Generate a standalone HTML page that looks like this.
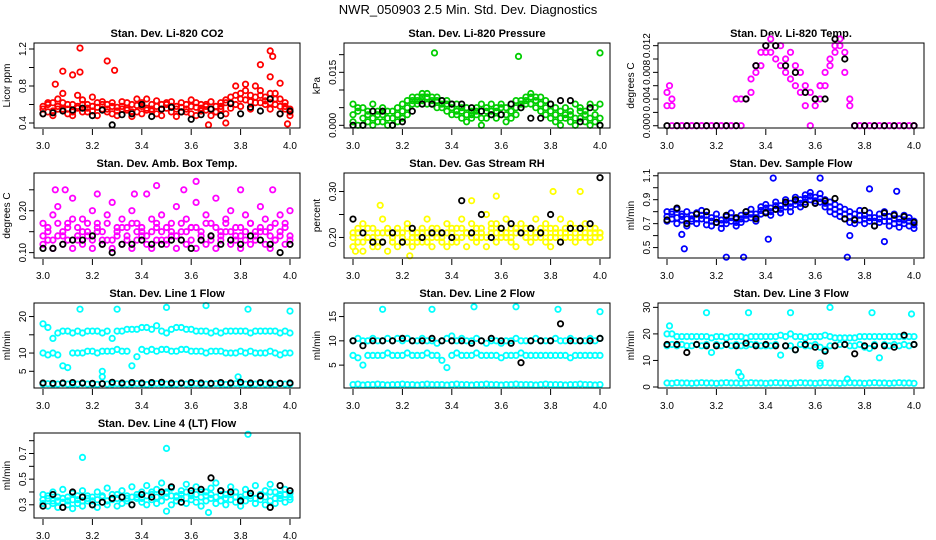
<!DOCTYPE html>
<html><head><meta charset="utf-8"><style>
html,body{margin:0;padding:0;background:#fff;}
svg{display:block;font-family:"Liberation Sans",Arial,sans-serif;}
</style></head><body>
<svg id="chart" width="936" height="540" viewBox="0 0 936 540" xmlns="http://www.w3.org/2000/svg">
<rect width="936" height="540" fill="#fff"/>
<text x="468" y="14" text-anchor="middle" font-size="13">NWR_050903  2.5 Min. Std. Dev. Diagnostics</text>
</svg>
<script>
const X = [3.00,3.02,3.04,3.06,3.08,3.10,3.12,3.14,3.16,3.18,3.20,3.22,3.24,3.26,3.28,3.30,3.32,3.34,3.36,3.38,3.40,3.42,3.44,3.46,3.48,3.50,3.52,3.54,3.56,3.58,3.60,3.62,3.64,3.66,3.68,3.70,3.72,3.74,3.76,3.78,3.80,3.82,3.84,3.86,3.88,3.90,3.92,3.94,3.96,3.98,4.00];
const XB = [3.00,3.04,3.08,3.12,3.16,3.20,3.24,3.28,3.32,3.36,3.40,3.44,3.48,3.52,3.56,3.60,3.64,3.68,3.72,3.76,3.80,3.84,3.88,3.92,3.96,4.00];

const co2A = [0.58,0.52,0.62,0.55,0.72,0.50,0.60,0.56,0.65,0.52,0.58,0.62,0.55,0.60,0.50,0.57,0.63,0.54,0.60,0.52,0.58,0.66,0.55,0.50,0.60,0.56,0.52,0.58,0.62,0.55,0.50,0.57,0.60,0.54,0.63,0.58,0.55,0.62,0.68,0.60,0.72,0.65,0.70,0.62,0.75,0.68,0.72,0.60,0.66,0.58,0.55];
const co2B = [0.50,0.62,0.48,0.66,0.55,0.60,0.48,0.70,0.52,0.60,0.68,0.48,0.63,0.52,0.58,0.48,0.55,0.62,0.47,0.66,0.50,0.54,0.60,0.64,0.48,0.62,0.58,0.47,0.52,0.60,0.65,0.48,0.53,0.58,0.48,0.52,0.62,0.50,0.56,0.80,0.58,0.82,0.55,0.80,0.62,0.60,0.55,0.72,0.50,0.62,0.48];
const co2C = [0.55,0.60,0.53,0.58,0.62,0.55,0.52,0.58,0.60,0.56,0.53,0.57,0.60,0.55,0.62,0.53,0.58,0.56,0.52,0.59,0.62,0.56,0.53,0.58,0.55,0.60,0.63,0.55,0.57,0.52,0.58,0.62,0.56,0.60,0.55,0.52,0.58,0.65,0.62,0.70,0.66,0.75,0.63,0.68,0.70,0.64,0.62,0.66,0.58,0.55,0.52];
const co2OutX = [3.15,3.26,3.29,3.08,3.12,3.15,3.92,3.93,3.88,3.05,3.92,3.96,3.67,3.99,3.74];
const co2OutY = [1.21,1.07,0.97,0.96,0.92,0.95,1.18,1.12,1.03,0.82,0.90,0.83,0.38,0.39,0.40];
const co2K = [0.50,0.51,0.53,0.54,0.56,0.48,0.54,0.38,0.49,0.50,0.60,0.47,0.55,0.57,0.52,0.44,0.49,0.55,0.48,0.61,0.50,0.57,0.53,0.66,0.50,0.53];

const prsA = [0.006,0.004,0.005,0.003,0.006,0.004,0.005,0.002,0.004,0.005,0.006,0.007,0.008,0.008,0.009,0.009,0.008,0.008,0.007,0.007,0.006,0.006,0.005,0.005,0.004,0.005,0.006,0.005,0.006,0.005,0.006,0.005,0.006,0.007,0.007,0.008,0.009,0.008,0.008,0.007,0.006,0.005,0.004,0.005,0.004,0.006,0.005,0.004,0.006,0.005,0.006];
const prsB = [0.001,0.000,0.002,0.001,0.000,0.003,0.001,0.000,0.002,0.003,0.004,0.005,0.006,0.007,0.007,0.006,0.006,0.005,0.005,0.004,0.003,0.003,0.002,0.001,0.002,0.003,0.000,0.002,0.003,0.002,0.003,0.001,0.002,0.003,0.005,0.006,0.006,0.005,0.004,0.003,0.002,0.001,0.000,0.002,0.001,0.000,0.002,0.001,0.000,0.001,0.000];
const prsC = [0.003,0.005,0.000,0.004,0.002,0.001,0.003,0.004,0.000,0.001,0.002,0.003,0.007,0.006,0.008,0.008,0.007,0.007,0.006,0.006,0.005,0.004,0.004,0.003,0.003,0.004,0.002,0.004,0.004,0.004,0.005,0.003,0.004,0.005,0.006,0.007,0.008,0.007,0.006,0.005,0.004,0.003,0.002,0.003,0.003,0.002,0.004,0.003,0.002,0.003,0.002];
const prsOutX = [3.33,3.67,4.00];
const prsOutY = [0.0205,0.0195,0.0205];
const prsK = [0.000,0.000,0.004,0.004,0.000,0.001,0.004,0.006,0.006,0.007,0.006,0.006,0.005,0.004,0.003,0.003,0.006,0.005,0.002,0.002,0.006,0.007,0.007,0.001,0.005,0.000];

const tmpA = [0.003,0.003,0,0,0,0,0,0,0,0,0,0,0,0,0.004,0.004,0.004,0.005,0.009,0.011,0.012,0.013,0.012,0.012,0.010,0.011,0.009,0.008,0.006,0.005,0.004,0.004,0.006,0.010,0.012,0.013,0.011,0.004,0,0,0,0,0,0,0,0,0,0,0,0,0];
const tmpB = [0.005,0.000,0,0,0,0,0,0,0,0,0,0,0,0,0.000,0.000,0.004,0.007,0.008,0.009,0.011,0.011,0.010,0.009,0.008,0.007,0.006,0.005,0.003,0.000,0.003,0.006,0.008,0.009,0.011,0.012,0.008,0.003,0,0,0,0,0,0,0,0,0,0,0,0,0];
const tmpOutX = [3.01,3.02,3.62];
const tmpOutY = [0.006,0.004,0.006];
const tmpK = [0,0,0,0,0,0,0,0,0.004,0.009,0.012,0.012,0.009,0.008,0.005,0.004,0.004,0.013,0.010,0,0,0,0,0,0,0];

const ambA = [0.17,0.15,0.19,0.21,0.14,0.17,0.23,0.16,0.18,0.15,0.20,0.17,0.13,0.19,0.22,0.16,0.18,0.14,0.20,0.17,0.15,0.24,0.18,0.16,0.19,0.13,0.17,0.21,0.15,0.18,0.16,0.22,0.14,0.19,0.17,0.23,0.15,0.18,0.20,0.16,0.14,0.19,0.17,0.15,0.21,0.18,0.16,0.13,0.19,0.17,0.20];
const ambB = [0.12,0.13,0.11,0.14,0.12,0.16,0.11,0.13,0.12,0.14,0.11,0.15,0.12,0.13,0.11,0.14,0.12,0.16,0.11,0.13,0.14,0.12,0.11,0.13,0.15,0.12,0.14,0.11,0.13,0.12,0.16,0.11,0.13,0.12,0.14,0.11,0.13,0.15,0.12,0.14,0.11,0.13,0.12,0.14,0.15,0.12,0.11,0.13,0.14,0.12,0.13];
const ambC = [0.14,0.16,0.13,0.17,0.15,0.13,0.18,0.14,0.15,0.17,0.13,0.16,0.15,0.17,0.13,0.15,0.16,0.13,0.17,0.15,0.16,0.14,0.15,0.17,0.13,0.16,0.15,0.14,0.17,0.15,0.13,0.16,0.15,0.17,0.13,0.16,0.14,0.17,0.15,0.13,0.16,0.15,0.17,0.13,0.16,0.15,0.14,0.17,0.15,0.16,0.14];
const ambOutX = [3.05,3.09,3.22,3.46,3.62,3.80,3.57,3.93,3.37];
const ambOutY = [0.25,0.25,0.24,0.26,0.27,0.25,0.25,0.25,0.24];
const ambK = [0.11,0.11,0.12,0.13,0.13,0.14,0.12,0.10,0.12,0.12,0.13,0.12,0.12,0.13,0.13,0.11,0.13,0.14,0.12,0.13,0.12,0.14,0.13,0.12,0.10,0.12];

const rhA = [0.21,0.19,0.23,0.20,0.22,0.18,0.24,0.21,0.19,0.22,0.20,0.23,0.21,0.19,0.22,0.24,0.20,0.22,0.21,0.23,0.19,0.22,0.24,0.21,0.23,0.20,0.22,0.25,0.21,0.23,0.20,0.24,0.22,0.21,0.23,0.20,0.22,0.24,0.21,0.23,0.22,0.20,0.24,0.21,0.23,0.22,0.20,0.23,0.21,0.22,0.21];
const rhB = [0.18,0.22,0.17,0.20,0.18,0.21,0.19,0.17,0.20,0.18,0.21,0.19,0.18,0.20,0.19,0.21,0.18,0.20,0.19,0.18,0.21,0.19,0.20,0.18,0.21,0.19,0.20,0.18,0.22,0.19,0.21,0.20,0.19,0.18,0.21,0.20,0.19,0.21,0.20,0.19,0.18,0.21,0.19,0.20,0.22,0.19,0.20,0.21,0.19,0.20,0.21];
const rhC = [0.20,0.21,0.19,0.22,0.20,0.19,0.21,0.22,0.20,0.21,0.19,0.22,0.20,0.21,0.21,0.19,0.22,0.21,0.20,0.21,0.22,0.20,0.22,0.21,0.20,0.22,0.21,0.20,0.23,0.21,0.22,0.21,0.20,0.22,0.21,0.22,0.21,0.20,0.22,0.21,0.20,0.22,0.21,0.22,0.20,0.21,0.22,0.20,0.22,0.21,0.20];
const rhOutX = [3.01,3.23,3.58,3.81,3.92,3.48,3.11];
const rhOutY = [0.17,0.16,0.29,0.30,0.30,0.28,0.27];
const rhK = [0.24,0.21,0.19,0.19,0.21,0.19,0.22,0.20,0.21,0.21,0.20,0.28,0.21,0.25,0.20,0.22,0.23,0.21,0.22,0.21,0.25,0.19,0.22,0.22,0.23,0.33];

const sfA = [0.80,0.78,0.82,0.76,0.80,0.74,0.79,0.81,0.77,0.75,0.78,0.73,0.76,0.79,0.74,0.77,0.80,0.82,0.78,0.84,0.86,0.83,0.88,0.85,0.90,0.87,0.92,0.90,0.94,0.96,0.92,0.95,0.90,0.88,0.86,0.84,0.82,0.80,0.78,0.81,0.77,0.79,0.75,0.78,0.80,0.76,0.78,0.74,0.77,0.75,0.72];
const sfB = [0.72,0.74,0.70,0.73,0.68,0.72,0.70,0.74,0.69,0.68,0.71,0.66,0.70,0.72,0.68,0.71,0.74,0.75,0.72,0.78,0.80,0.77,0.82,0.79,0.84,0.80,0.86,0.84,0.88,0.90,0.87,0.88,0.84,0.80,0.78,0.76,0.74,0.71,0.70,0.73,0.70,0.72,0.68,0.71,0.72,0.68,0.70,0.67,0.70,0.68,0.66];
const sfC = [0.76,0.80,0.75,0.78,0.74,0.77,0.74,0.77,0.73,0.72,0.74,0.70,0.73,0.75,0.71,0.74,0.77,0.78,0.75,0.81,0.83,0.80,0.85,0.82,0.87,0.84,0.89,0.87,0.91,0.93,0.89,0.91,0.87,0.84,0.82,0.80,0.78,0.76,0.74,0.77,0.74,0.75,0.72,0.74,0.76,0.72,0.74,0.71,0.73,0.72,0.69];
const sfOutX = [3.07,3.24,3.31,3.43,3.62,3.73,3.41,3.88,3.82,3.93,3.06,3.74];
const sfOutY = [0.49,0.42,0.42,1.08,1.08,0.42,0.57,0.55,0.99,0.97,0.61,0.60];
const sfK = [0.73,0.83,0.70,0.78,0.80,0.71,0.77,0.75,0.80,0.74,0.79,0.82,0.88,0.90,0.86,0.87,0.89,0.91,0.74,0.73,0.81,0.68,0.79,0.77,0.76,0.71];

const l1A = [18,17,14,15.5,16,16,15.5,16,15.5,16,16,16,15.5,16,14,16,16,16.5,16.5,16.5,17,17,16.5,17.5,16,15.5,16.5,17,17,16.5,16.5,16,16,16,15.5,16,15.5,16,16,16,16,16,15.5,16,16,16,16,16,15.5,16,15.5];
const l1B = [10,9.5,10,9.5,6.5,6,10,10,10,10.5,10.5,10,10.5,10.5,10.5,11,10.5,10.5,6.5,9,11,10.5,11,10.5,11,11,10.5,10.5,11,11,10.5,10.5,10.5,10,10.5,10.5,10.5,10,10,10,10.5,10,10.5,10,10,10,10.5,10,9.5,10,10];
const l1C = [1.5,1.6,1.4,1.5,1.6,1.5,1.4,1.5,1.6,1.5,1.5,1.4,1.6,1.5,1.5,1.6,1.4,1.5,1.5,1.6,1.5,1.4,1.5,1.6,1.5,1.5,1.4,1.5,1.6,1.5,1.5,1.6,1.4,1.5,1.5,1.6,1.5,1.4,1.5,1.6,1.5,1.5,1.4,1.5,1.6,1.5,1.5,1.4,1.6,1.5,1.5];
const l1OutX = [3.15,3.30,3.50,3.66,3.83,4.00,3.24,3.24,3.79];
const l1OutY = [22,22,22.5,23,22,21.5,3.5,5,3.5];
const l1K = [1.8,1.7,1.8,1.9,1.8,1.7,1.6,2.0,1.8,1.9,1.8,1.9,2.0,1.8,1.8,1.9,1.8,1.7,1.9,1.8,2.0,1.8,1.9,1.8,1.7,1.8];

const l2A = [10,10.5,10,10,10.5,10,10,10.5,10,10.5,10,10.5,10,10,10.5,10,10,9.5,10,10.5,11,10,10.5,10,10,10.5,10,9.5,10,10,9.5,10,10,10.5,10,10,10,10.5,10,10,10,10.5,10,10,10.5,10,10,10,10.5,10,10.5];
const l2B = [7,6.5,5,7,7,7,7,7.5,7,7,7,7.5,7,7,7,7.5,7,7,6,4.5,7,7.5,7,7,7,7.5,7,7,7,7,6.5,7,7,7,7.5,7,7,7,7,7,7,7,7,7,6.5,7,7,7,7,7,7];
const l2C = [1,1.1,0.9,1,1,1.1,1,0.9,1,1,1.1,1,1,0.9,1,1.1,1,1,1,0.9,1,1.1,1,1,0.9,1,1,1.1,1,1,0.9,1,1,1.1,1,1,1,0.9,1,1.1,1,1,1,0.9,1,1,1.1,1,1,0.9,1];
const l2OutX = [3.12,3.32,3.49,3.66,3.83,4.00];
const l2OutY = [16.5,16.5,17,17,16.5,16];
const l2K = [10,9,10,10,10,10.5,10,10,10.5,10,10,10,9.5,10,10.5,10,9.5,5.5,10,10,10,13.5,10,10,10,10.5];

const l3A = [20,20,19,19,19,19,19,19,19,18.5,19,19,18.5,19,19,19,18.5,19,19,19,19,19,19,19.5,19,20,19,19,18.5,19,19,19,19.5,19,18.5,18.5,18.5,18.5,18.5,19,19,19,19,19,19,19,19,19,19,19,19];
const l3B = [15.5,16,15.5,16,15.5,15.5,16,15.5,16,13,16,15.5,16,15.5,16,15.5,15.5,16,16,15.5,15.5,15.5,16,12,15.5,15.5,14,16,15.5,15.5,16,15,14,15.5,15.5,16,16,15.5,15.5,16,15,14.5,16,11,16,15.5,16,15.5,16,15.5,16];
const l3C = [1.5,1.4,1.6,1.5,1.5,1.4,1.5,1.6,1.5,1.5,1.4,1.5,1.6,1.5,1.5,1.4,1.5,1.6,1.5,1.5,1.4,1.5,1.6,1.5,1.5,1.4,1.5,1.6,1.5,1.5,1.4,1.5,1.6,1.5,1.5,1.4,1.5,1.6,1.5,1.5,1.4,1.5,1.6,1.5,1.5,1.4,1.5,1.6,1.5,1.5,1.4];
const l3OutX = [3.01,3.16,3.33,3.50,3.66,3.83,3.99,3.29,3.30,3.73,3.62,3.62];
const l3OutY = [23,28,28,28,30,28,27.5,5.5,4,3,9,8];
const l3K = [16,16,13,16,15.5,15.5,16,15.5,16.5,15.5,16,15.5,15.5,14,16,15,13.5,15.5,16,12.5,15.5,15.5,15.5,15,19.5,16];

const l4A = [0.38,0.35,0.40,0.33,0.42,0.36,0.39,0.34,0.41,0.37,0.33,0.40,0.36,0.43,0.35,0.38,0.41,0.37,0.44,0.36,0.40,0.45,0.38,0.42,0.47,0.39,0.43,0.37,0.41,0.46,0.39,0.44,0.40,0.37,0.43,0.47,0.41,0.38,0.44,0.40,0.36,0.42,0.39,0.45,0.37,0.41,0.46,0.40,0.38,0.42,0.39];
const l4B = [0.31,0.29,0.33,0.28,0.32,0.30,0.27,0.31,0.29,0.33,0.30,0.28,0.32,0.30,0.34,0.29,0.31,0.33,0.30,0.35,0.32,0.30,0.34,0.31,0.33,0.36,0.30,0.33,0.35,0.31,0.34,0.32,0.29,0.33,0.35,0.31,0.33,0.30,0.34,0.32,0.29,0.33,0.35,0.31,0.34,0.30,0.33,0.31,0.35,0.32,0.34];
const l4C = [0.34,0.37,0.31,0.36,0.35,0.33,0.34,0.37,0.33,0.35,0.36,0.34,0.37,0.33,0.38,0.35,0.36,0.35,0.36,0.38,0.35,0.37,0.40,0.36,0.38,0.40,0.37,0.36,0.38,0.40,0.37,0.38,0.36,0.40,0.38,0.36,0.38,0.35,0.38,0.36,0.34,0.38,0.37,0.35,0.38,0.36,0.40,0.35,0.37,0.38,0.36];
const l4OutX = [3.16,3.50,3.83,3.67,3.50];
const l4OutY = [0.67,0.74,0.85,0.24,0.25];
const l4K = [0.29,0.38,0.28,0.40,0.36,0.30,0.32,0.35,0.36,0.30,0.38,0.36,0.40,0.44,0.32,0.41,0.42,0.51,0.41,0.40,0.33,0.39,0.37,0.28,0.45,0.41];

const xTicks = [3.0,3.2,3.4,3.6,3.8,4.0];
const xTickLabels = ["3.0","3.2","3.4","3.6","3.8","4.0"];

const panels = [
 {name:"co2",title:"Stan. Dev. Li-820 CO2",ylab:"Licor ppm",col:0,row:0,color:"#ff0000",ymin:0.346,ymax:1.265,ticks:[0.4,0.6,0.8,1.0,1.2],labels:["0.4","","0.8","","1.2"],series:[co2A,co2B,co2C],ox:co2OutX,oy:co2OutY,k:co2K},
 {name:"pressure",title:"Stan. Dev. Li-820 Pressure",ylab:"kPa",col:1,row:0,color:"#00cd00",ymin:-0.00076,ymax:0.0233,ticks:[0,0.005,0.010,0.015,0.020],labels:["0.000","","","0.015",""],series:[prsA,prsB,prsC],ox:prsOutX,oy:prsOutY,k:prsK},
 {name:"temp",title:"Stan. Dev. Li-820 Temp.",ylab:"degrees C",col:2,row:0,color:"#ff00ff",ymin:-0.00034,ymax:0.0124,ticks:[0,0.002,0.004,0.006,0.008,0.010,0.012],labels:["0.000","","0.004","","0.008","","0.012"],series:[tmpA,tmpB],ox:tmpOutX,oy:tmpOutY,k:tmpK},
 {name:"amb-box-temp",title:"Stan. Dev. Amb. Box Temp.",ylab:"degrees C",col:0,row:1,color:"#ff00ff",ymin:0.0872,ymax:0.2901,ticks:[0.10,0.15,0.20,0.25],labels:["0.10","","0.20",""],series:[ambA,ambB,ambC],ox:ambOutX,oy:ambOutY,k:ambK},
 {name:"gas-stream-rh",title:"Stan. Dev. Gas Stream RH",ylab:"percent",col:1,row:1,color:"#ffff00",ymin:0.1553,ymax:0.3403,ticks:[0.20,0.25,0.30],labels:["0.20","","0.30"],series:[rhA,rhB,rhC],ox:rhOutX,oy:rhOutY,k:rhK},
 {name:"sample-flow",title:"Stan. Dev. Sample Flow",ylab:"ml/min",col:2,row:1,color:"#0000ff",ymin:0.413,ymax:1.123,ticks:[0.5,0.6,0.7,0.8,0.9,1.0,1.1],labels:["0.5","","0.7","","0.9","","1.1"],series:[sfA,sfB,sfC],ox:sfOutX,oy:sfOutY,k:sfK},
 {name:"line1-flow",title:"Stan. Dev. Line 1 Flow",ylab:"ml/min",col:0,row:2,color:"#00ffff",ymin:0.425,ymax:23.71,ticks:[5,10,15,20],labels:["5","10","","20"],series:[l1A,l1B,l1C],ox:l1OutX,oy:l1OutY,k:l1K},
 {name:"line2-flow",title:"Stan. Dev. Line 2 Flow",ylab:"ml/min",col:1,row:2,color:"#00ffff",ymin:0.29,ymax:17.79,ticks:[5,10,15],labels:["5","10","15"],series:[l2A,l2B,l2C],ox:l2OutX,oy:l2OutY,k:l2K},
 {name:"line3-flow",title:"Stan. Dev. Line 3 Flow",ylab:"ml/min",col:2,row:2,color:"#00ffff",ymin:-0.38,ymax:31.64,ticks:[0,10,20,30],labels:["0","10","20","30"],series:[l3A,l3B,l3C],ox:l3OutX,oy:l3OutY,k:l3K},
 {name:"line4-flow",title:"Stan. Dev. Line 4 (LT) Flow",ylab:"ml/min",col:0,row:3,color:"#00ffff",ymin:0.197,ymax:0.860,ticks:[0.3,0.4,0.5,0.6,0.7,0.8],labels:["0.3","","0.5","","0.7",""],series:[l4A,l4B,l4C],ox:l4OutX,oy:l4OutY,k:l4K}
];

const svg = document.getElementById('chart');
const NS = 'http://www.w3.org/2000/svg';
const colX = [43,353,667];
const rowTop = [43,173,303,433];
const SPAN = 247, BH = 85;

function mk(tag, attrs, parent){
  const e = document.createElementNS(NS, tag);
  for (const k in attrs) e.setAttribute(k, attrs[k]);
  (parent||svg).appendChild(e);
  return e;
}

panels.forEach(p => {
  const x0 = colX[p.col], top = rowTop[p.row], bot = top + BH;
  const left = x0 - 9, right = x0 + SPAN + 10;
  const sx = v => x0 + (v - 3) * SPAN;
  const sy = v => bot - (v - p.ymin) / (p.ymax - p.ymin) * BH;
  const g = mk('g', {});
  
  

  const t = mk('text', {x:(left+right)/2, y:top-6, 'text-anchor':'middle', 'font-size':'11', 'font-weight':'bold'}, g);
  t.textContent = p.title;
  
  

  const yl = mk('text', {x:0, y:0, 'text-anchor':'middle', 'font-size':'10', transform:`translate(${left-24},${(top+bot)/2}) rotate(-90)`}, g);
  yl.textContent = p.ylab;
  
  

  const pts = mk('g', {fill:'none', 'stroke-width':'1.8'}, g);
  
  
  p.series.forEach(arr => {
    arr.forEach((v, i) => {
      const c = mk('circle', {cx:sx(X[i]).toFixed(1), cy:sy(v).toFixed(1), r:'2.7', stroke:p.color}, pts);
      
      
    });
  });
  p.ox.forEach((xv, i) => {
    const c = mk('circle', {cx:sx(xv).toFixed(1), cy:sy(p.oy[i]).toFixed(1), r:'2.7', stroke:p.color}, pts);
    
    
  });
  p.k.forEach((v, i) => {
    const c = mk('circle', {cx:sx(XB[i]).toFixed(1), cy:sy(v).toFixed(1), r:'2.7', stroke:'#000'}, pts);
    
    
  });

  const box = mk('rect', {x:left, y:top, width:right-left, height:BH, fill:'none', stroke:'#000', 'stroke-width':'1'}, g);
  
  

  const xa = mk('g', {}, g);
  
  
  xTicks.forEach((v, i) => {
    mk('line', {x1:sx(v), x2:sx(v), y1:bot+1, y2:bot+7, stroke:'#000'}, xa);
    const tl = mk('text', {x:sx(v), y:bot+21, 'text-anchor':'middle', 'font-size':'10'}, xa);
    tl.textContent = xTickLabels[i];
    
    
  });

  const ya = mk('g', {}, g);
  
  
  p.ticks.forEach((v, i) => {
    const y = sy(v);
    mk('line', {x1:left-5, x2:left, y1:y, y2:y, stroke:'#000'}, ya);
    if (p.labels[i]) {
      const tl = mk('text', {x:0, y:0, 'text-anchor':'middle', 'font-size':'10', transform:`translate(${left-8},${y}) rotate(-90)`}, ya);
      tl.textContent = p.labels[i];
      
      
    }
  });
});
</script>
</body></html>
